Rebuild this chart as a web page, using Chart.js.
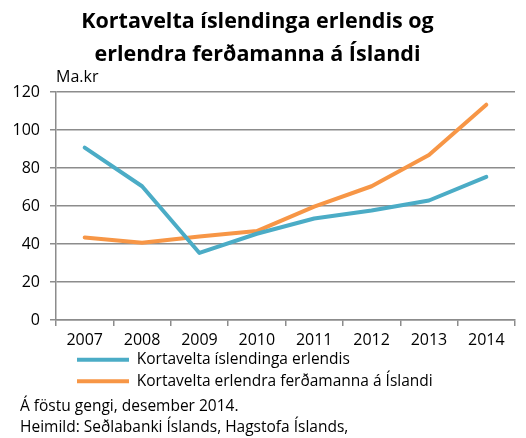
<!DOCTYPE html>
<html>
<head>
<meta charset="utf-8">
<script src="https://cdn.jsdelivr.net/npm/chart.js@4"></script>
<style>
  html, body { margin: 0; padding: 0; background: #fff; }
  #wrap { width: 526px; height: 438px; }
</style>
</head>
<body>
<div id="wrap"><canvas id="myChart" width="526" height="438"></canvas></div>
<script>
// Data
const years = ['2007', '2008', '2009', '2010', '2011', '2012', '2013', '2014'];
const islendingarErlendis = [90.7, 70.4, 35.3, 45.4, 53.4, 57.6, 62.9, 75.3];
const ferdamennAIslandi = [43.4, 40.7, 44.0, 46.8, 59.7, 70.4, 86.9, 113.3];
const seriesNames = ['Kortavelta íslendinga erlendis', 'Kortavelta erlendra ferðamanna á Íslandi'];
const titleLines = ['Kortavelta íslendinga erlendis og', 'erlendra ferðamanna á Íslandi'];
const unitLabel = 'Ma.kr';
const footnotes = ['Á föstu gengi, desember 2014.', 'Heimild: Seðlabanki Íslands, Hagstofa Íslands,'];

const FONT = '"Open Sans", "Liberation Sans", sans-serif';
const GRID = '#8c8c8c';

// Unit label above the y axis and source notes under the legend
const notesPlugin = {
  id: 'notes',
  afterLayout(chart) {
    // push legend rows in so they start under the plot, like the original
    const lg = chart.legend;
    if (lg) {
      const w = lg.right - lg.left;
      lg.left = 71;
      lg.right = 71 + w;
    }
  },
  afterDraw(chart) {
    const ctx = chart.ctx;
    ctx.save();
    ctx.fillStyle = '#000';
    ctx.textBaseline = 'middle';
    ctx.textAlign = 'left';
    ctx.font = '16px ' + FONT;
    ctx.fillText(unitLabel, chart.chartArea.left, 77);
    ctx.font = '15.5px ' + FONT;
    ctx.fillText(footnotes[0], 20, 407);
    ctx.fillText(footnotes[1], 20, 428);
    ctx.restore();
  }
};

const chartCanvas = document.getElementById('myChart');
const myChart = new Chart(chartCanvas, {
  type: 'line',
  data: {
    labels: years,
    datasets: [
      {
        label: seriesNames[0],
        data: islendingarErlendis,
        borderColor: '#4bacc6',
        backgroundColor: '#4bacc6',
        borderWidth: 4,
        pointRadius: 0,
        tension: 0,
        borderJoinStyle: 'round',
        borderCapStyle: 'round',
      },
      {
        label: seriesNames[1],
        data: ferdamennAIslandi,
        borderColor: '#f79646',
        backgroundColor: '#f79646',
        borderWidth: 4,
        pointRadius: 0,
        tension: 0,
        borderJoinStyle: 'round',
        borderCapStyle: 'round',
      },
    ],
  },
  options: {
    responsive: false,
    animation: false,
    layout: { padding: { left: 0, right: 11, top: 0, bottom: 39 } },
    plugins: {
      title: {
        display: true,
        text: titleLines,
        color: '#000',
        font: { family: FONT, size: 21.5, weight: 'bold', lineHeight: 1.5 },
        padding: { top: 6, bottom: 21.5 },
      },
      legend: {
        position: 'bottom',
        align: 'start',
        labels: {
          usePointStyle: true,
          pointStyle: 'line',
          pointStyleWidth: 52,
          boxHeight: 15,
          padding: 6,
          color: '#000',
          font: { family: FONT, size: 15.5 },
        },
      },
      tooltip: { enabled: false },
    },
    scales: {
      x: {
        offset: true,
        grid: {
          offset: true,
          drawOnChartArea: false,
          drawTicks: true,
          tickLength: 6,
          color: GRID,
          lineWidth: 1.5,
        },
        border: { display: true, color: GRID, width: 1.5 },
        ticks: { color: '#000', font: { family: FONT, size: 16 }, padding: 5, maxRotation: 0 },
        afterFit(scale) { scale.height = 26; },
      },
      y: {
        min: 0,
        max: 120,
        ticks: { stepSize: 20, color: '#000', font: { family: FONT, size: 16 }, padding: 10 },
        grid: { color: GRID, lineWidth: 1.5, tickLength: 6 },
        border: { display: true, color: GRID, width: 1.5 },
        afterFit(scale) { scale.width = 56; },
      },
    },
  },
  plugins: [notesPlugin],
});
</script>
</body>
</html>
